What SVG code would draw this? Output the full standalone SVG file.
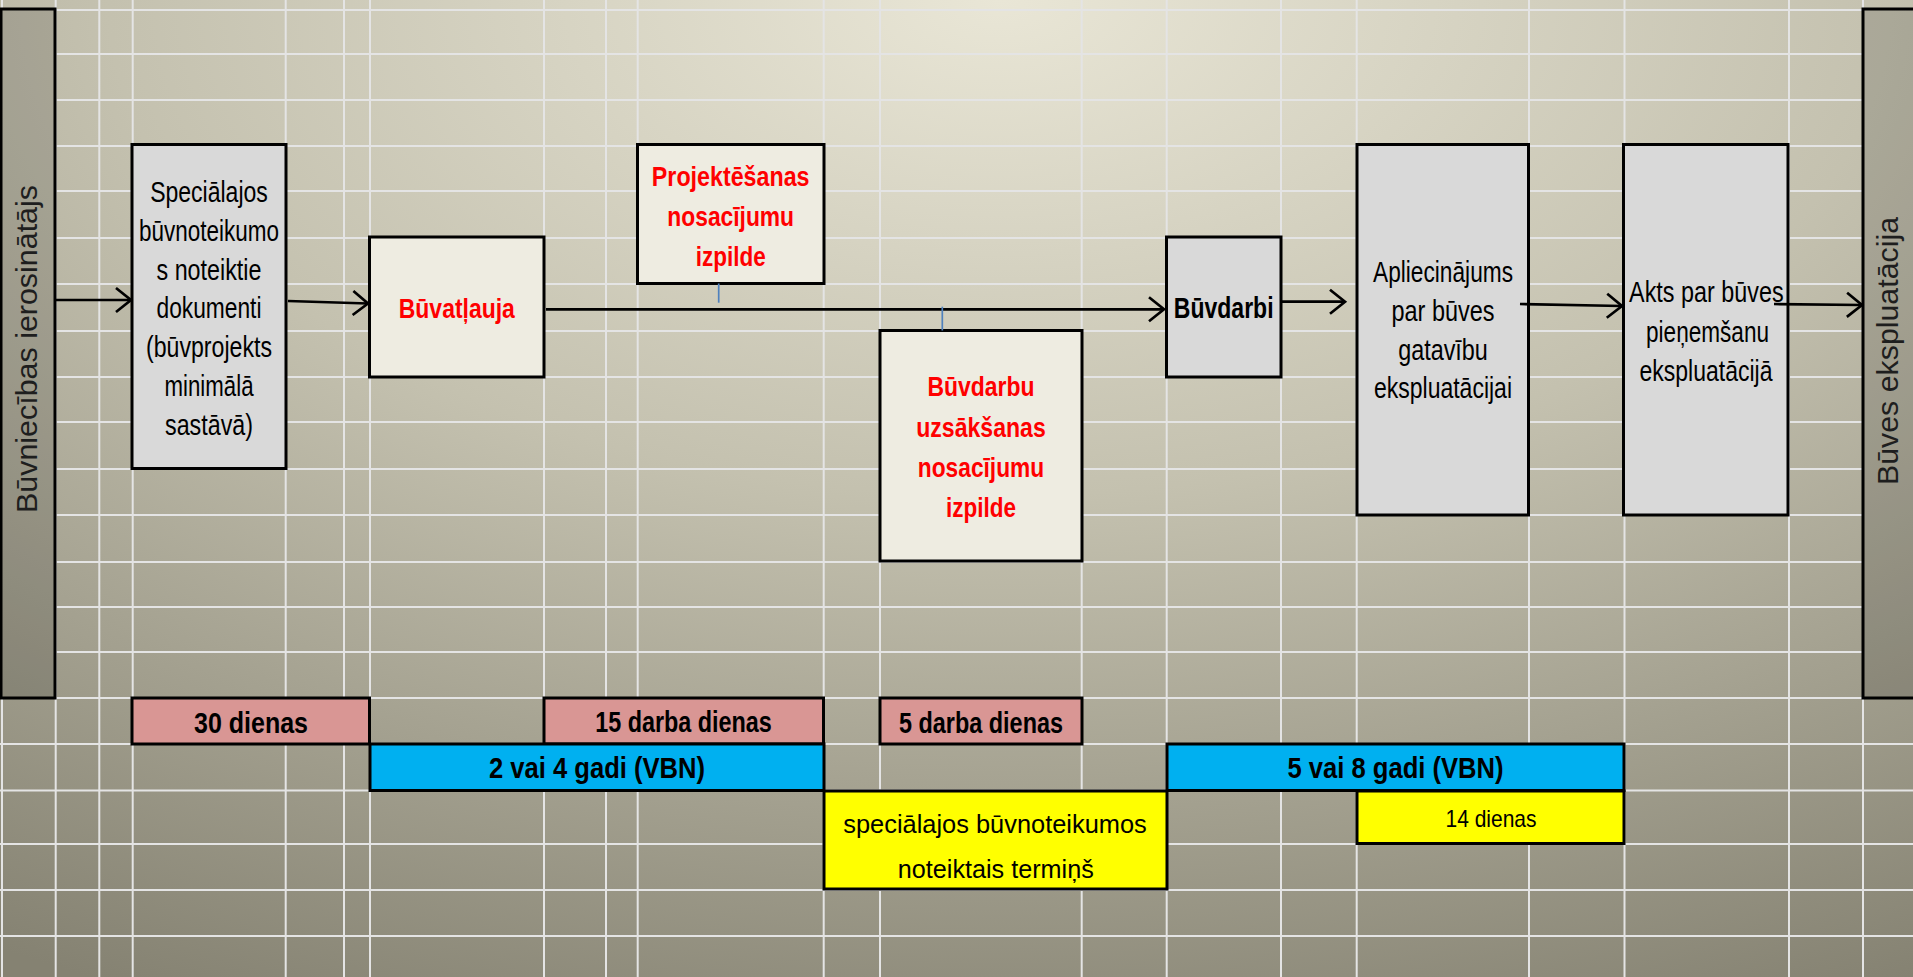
<svg xmlns="http://www.w3.org/2000/svg" width="1913" height="977" viewBox="0 0 1913 977">
<defs>
<radialGradient id="bg" gradientUnits="userSpaceOnUse" cx="0" cy="0" r="1" gradientTransform="translate(1000 0) scale(1980 1100)">
<stop offset="0" stop-color="#e9e6d6"/>
<stop offset="0.45" stop-color="#c4c1af"/>
<stop offset="1" stop-color="#858272"/>
</radialGradient>
<marker id="arr" markerUnits="userSpaceOnUse" markerWidth="22" markerHeight="30" refX="18" refY="14" orient="auto" overflow="visible">
<path d="M3,2 L18,14 L3,26" fill="none" stroke="#000" stroke-width="2.7"/>
</marker>
<style>
.gl{stroke:#e4e4e4;stroke-width:2}
.bx{stroke:#000;stroke-width:3}
.gr{fill:#d9d9d9}.cr{fill:#eeece1}.pk{fill:#d99694}.bl{fill:#00b0f0}.ye{fill:#ffff00}
.t{font-family:"Liberation Sans",Arial,sans-serif;text-anchor:middle;fill:#000}
.n{font-size:29px}
.rd{font-size:28px;font-weight:bold;fill:#ff0000}
.bd{font-size:29px;font-weight:bold}
.bb{font-size:30px;font-weight:bold}
.ys{font-size:26px}
.ys2{font-size:24px}
.vt{font-size:30px;fill:#1e1e1e}
.cn{stroke:#000;stroke-width:2.7;fill:none}
.tk{stroke:#4f81bd;stroke-width:1.7}
</style>
</defs>
<rect x="0" y="0" width="1913" height="977" fill="url(#bg)"/>
<g id="grid">
<line class="gl" x1="0" y1="10" x2="1913" y2="10"/>
<line class="gl" x1="0" y1="54" x2="1913" y2="54"/>
<line class="gl" x1="0" y1="100" x2="1913" y2="100"/>
<line class="gl" x1="0" y1="146" x2="1913" y2="146"/>
<line class="gl" x1="0" y1="191" x2="1913" y2="191"/>
<line class="gl" x1="0" y1="238" x2="1913" y2="238"/>
<line class="gl" x1="0" y1="284" x2="1913" y2="284"/>
<line class="gl" x1="0" y1="331" x2="1913" y2="331"/>
<line class="gl" x1="0" y1="377" x2="1913" y2="377"/>
<line class="gl" x1="0" y1="422" x2="1913" y2="422"/>
<line class="gl" x1="0" y1="469" x2="1913" y2="469"/>
<line class="gl" x1="0" y1="515" x2="1913" y2="515"/>
<line class="gl" x1="0" y1="562" x2="1913" y2="562"/>
<line class="gl" x1="0" y1="607" x2="1913" y2="607"/>
<line class="gl" x1="0" y1="652" x2="1913" y2="652"/>
<line class="gl" x1="0" y1="698" x2="1913" y2="698"/>
<line class="gl" x1="0" y1="744" x2="1913" y2="744"/>
<line class="gl" x1="0" y1="790.5" x2="1913" y2="790.5"/>
<line class="gl" x1="0" y1="844" x2="1913" y2="844"/>
<line class="gl" x1="0" y1="890" x2="1913" y2="890"/>
<line class="gl" x1="0" y1="936" x2="1913" y2="936"/>
<line class="gl" x1="2" y1="0" x2="2" y2="977"/>
<line class="gl" x1="55.7" y1="0" x2="55.7" y2="977"/>
<line class="gl" x1="99.3" y1="0" x2="99.3" y2="977"/>
<line class="gl" x1="132.7" y1="0" x2="132.7" y2="977"/>
<line class="gl" x1="285.7" y1="0" x2="285.7" y2="977"/>
<line class="gl" x1="344" y1="0" x2="344" y2="977"/>
<line class="gl" x1="370" y1="0" x2="370" y2="977"/>
<line class="gl" x1="544" y1="0" x2="544" y2="977"/>
<line class="gl" x1="606" y1="0" x2="606" y2="977"/>
<line class="gl" x1="637.7" y1="0" x2="637.7" y2="977"/>
<line class="gl" x1="823.7" y1="0" x2="823.7" y2="977"/>
<line class="gl" x1="880" y1="0" x2="880" y2="977"/>
<line class="gl" x1="1081.7" y1="0" x2="1081.7" y2="977"/>
<line class="gl" x1="1166.7" y1="0" x2="1166.7" y2="977"/>
<line class="gl" x1="1281" y1="0" x2="1281" y2="977"/>
<line class="gl" x1="1356.7" y1="0" x2="1356.7" y2="977"/>
<line class="gl" x1="1529" y1="0" x2="1529" y2="977"/>
<line class="gl" x1="1624.5" y1="0" x2="1624.5" y2="977"/>
<line class="gl" x1="1789" y1="0" x2="1789" y2="977"/>
<line class="gl" x1="1863" y1="0" x2="1863" y2="977"/>
</g>
<g id="node-ierosinatajs">
<rect x="1" y="9" width="54" height="689" fill="url(#bg)"/>
<rect class="bx" x="1" y="9" width="54" height="689" fill="#000" fill-opacity="0.13"/>
<text class="t vt" transform="translate(37 349) rotate(-90)" x="0" y="0" textLength="328" lengthAdjust="spacingAndGlyphs">Būvniecības ierosinātājs</text>
</g>
<g id="node-ekspluatacija">
<rect x="1863" y="9" width="52" height="689" fill="url(#bg)"/>
<rect class="bx" x="1863" y="9" width="52" height="689" fill="#000" fill-opacity="0.13"/>
<text class="t vt" transform="translate(1898 351) rotate(-90)" x="0" y="0" textLength="268" lengthAdjust="spacingAndGlyphs">Būves ekspluatācija</text>
</g>
<g id="node-specialajos">
<rect class="bx gr" x="132" y="144.5" width="154" height="324"/>
<text class="t n" x="209" y="201.7" textLength="117.7" lengthAdjust="spacingAndGlyphs">Speciālajos</text>
<text class="t n" x="209" y="240.6" textLength="140" lengthAdjust="spacingAndGlyphs">būvnoteikumo</text>
<text class="t n" x="209" y="279.5" textLength="105" lengthAdjust="spacingAndGlyphs">s noteiktie</text>
<text class="t n" x="209" y="318.4" textLength="105" lengthAdjust="spacingAndGlyphs">dokumenti</text>
<text class="t n" x="209" y="357.3" textLength="126" lengthAdjust="spacingAndGlyphs">(būvprojekts</text>
<text class="t n" x="209" y="396.2" textLength="89" lengthAdjust="spacingAndGlyphs">minimālā</text>
<text class="t n" x="209" y="435.1" textLength="88" lengthAdjust="spacingAndGlyphs">sastāvā)</text>
</g>
<g id="node-buvatlauja">
<rect class="bx cr" x="369.5" y="237" width="174.5" height="140"/>
<text class="t rd" x="456.8" y="317.5" textLength="116" lengthAdjust="spacingAndGlyphs">Būvatļauja</text>
</g>
<g id="node-projektesanas">
<rect class="bx cr" x="637.5" y="144.5" width="186.5" height="139"/>
<text class="t rd" x="730.7" y="185.5" textLength="157.7" lengthAdjust="spacingAndGlyphs">Projektēšanas</text>
<text class="t rd" x="730.7" y="225.5" textLength="126.7" lengthAdjust="spacingAndGlyphs">nosacījumu</text>
<text class="t rd" x="730.7" y="265.5" textLength="70" lengthAdjust="spacingAndGlyphs">izpilde</text>
</g>
<g id="node-buvdarbu-uzsaksanas">
<rect class="bx cr" x="880" y="330.5" width="202" height="230.5"/>
<text class="t rd" x="981" y="396" textLength="107" lengthAdjust="spacingAndGlyphs">Būvdarbu</text>
<text class="t rd" x="981" y="436.5" textLength="129.5" lengthAdjust="spacingAndGlyphs">uzsākšanas</text>
<text class="t rd" x="981" y="476.5" textLength="126.3" lengthAdjust="spacingAndGlyphs">nosacījumu</text>
<text class="t rd" x="981" y="516.5" textLength="70" lengthAdjust="spacingAndGlyphs">izpilde</text>
</g>
<g id="node-buvdarbi">
<rect class="bx gr" x="1166.5" y="237" width="114.5" height="140"/>
<text class="t bd" x="1223.7" y="317.7" textLength="99.7" lengthAdjust="spacingAndGlyphs">Būvdarbi</text>
</g>
<g id="node-apliecinajums">
<rect class="bx gr" x="1357" y="144.5" width="171.5" height="370.5"/>
<text class="t n" x="1443" y="282.3" textLength="140" lengthAdjust="spacingAndGlyphs">Apliecinājums</text>
<text class="t n" x="1443" y="321" textLength="103" lengthAdjust="spacingAndGlyphs">par būves</text>
<text class="t n" x="1443" y="359.7" textLength="89.7" lengthAdjust="spacingAndGlyphs">gatavību</text>
<text class="t n" x="1443" y="398.3" textLength="138" lengthAdjust="spacingAndGlyphs">ekspluatācijai</text>
</g>
<g id="node-akts">
<rect class="bx gr" x="1623.5" y="144.5" width="164.5" height="370.5"/>
<text class="t n" x="1706.4" y="301.7" textLength="154.6" lengthAdjust="spacingAndGlyphs">Akts par būves</text>
<text class="t n" x="1707.5" y="341.7" textLength="123" lengthAdjust="spacingAndGlyphs">pieņemšanu</text>
<text class="t n" x="1706" y="380.5" textLength="133" lengthAdjust="spacingAndGlyphs">ekspluatācijā</text>
</g>
<g id="bar-30-dienas">
<rect class="bx pk" x="132" y="698" width="237.5" height="46"/>
<text class="t bb" x="251" y="732.7" textLength="114" lengthAdjust="spacingAndGlyphs">30 dienas</text>
</g>
<g id="bar-15-darba-dienas">
<rect class="bx pk" x="544" y="698" width="279.5" height="46"/>
<text class="t bb" x="683.5" y="732" textLength="176.7" lengthAdjust="spacingAndGlyphs">15 darba dienas</text>
</g>
<g id="bar-5-darba-dienas">
<rect class="bx pk" x="880" y="698" width="202" height="46"/>
<text class="t bb" x="981" y="732.7" textLength="164" lengthAdjust="spacingAndGlyphs">5 darba dienas</text>
</g>
<g id="bar-2-4-gadi">
<rect class="bx bl" x="370" y="744" width="454" height="46.5"/>
<text class="t bb" x="597" y="778.3" textLength="216" lengthAdjust="spacingAndGlyphs">2 vai 4 gadi (VBN)</text>
</g>
<g id="bar-5-8-gadi">
<rect class="bx bl" x="1167" y="744" width="457" height="46.5"/>
<text class="t bb" x="1395.5" y="778.3" textLength="216" lengthAdjust="spacingAndGlyphs">5 vai 8 gadi (VBN)</text>
</g>
<g id="bar-terminss">
<rect class="bx ye" x="824" y="791" width="343" height="98"/>
<text class="t ys" x="995" y="832.7" textLength="303.5" lengthAdjust="spacingAndGlyphs">speciālajos būvnoteikumos</text>
<text class="t ys" x="995.8" y="877.5" textLength="196" lengthAdjust="spacingAndGlyphs">noteiktais termiņš</text>
</g>
<g id="bar-14-dienas">
<rect class="bx ye" x="1357" y="791" width="267" height="52.5"/>
<text class="t ys2" x="1491" y="826.5" textLength="91" lengthAdjust="spacingAndGlyphs">14 dienas</text>
</g>
<g id="connectors">
<line class="cn" x1="55" y1="300" x2="131" y2="300" marker-end="url(#arr)"/>
<line class="cn" x1="288" y1="301" x2="368" y2="303.5" marker-end="url(#arr)"/>
<line class="cn" x1="546" y1="309.3" x2="1164" y2="309.3" marker-end="url(#arr)"/>
<line class="cn" x1="1282" y1="301.7" x2="1345" y2="301.7" marker-end="url(#arr)"/>
<line class="cn" x1="1520" y1="304" x2="1622" y2="306" marker-end="url(#arr)"/>
<line class="cn" x1="1774" y1="304" x2="1862" y2="305" marker-end="url(#arr)"/>
<line class="tk" x1="718.7" y1="283.5" x2="718.7" y2="302.7"/>
<line class="tk" x1="942.3" y1="306.7" x2="942.3" y2="330.5"/>
</g>
</svg>
